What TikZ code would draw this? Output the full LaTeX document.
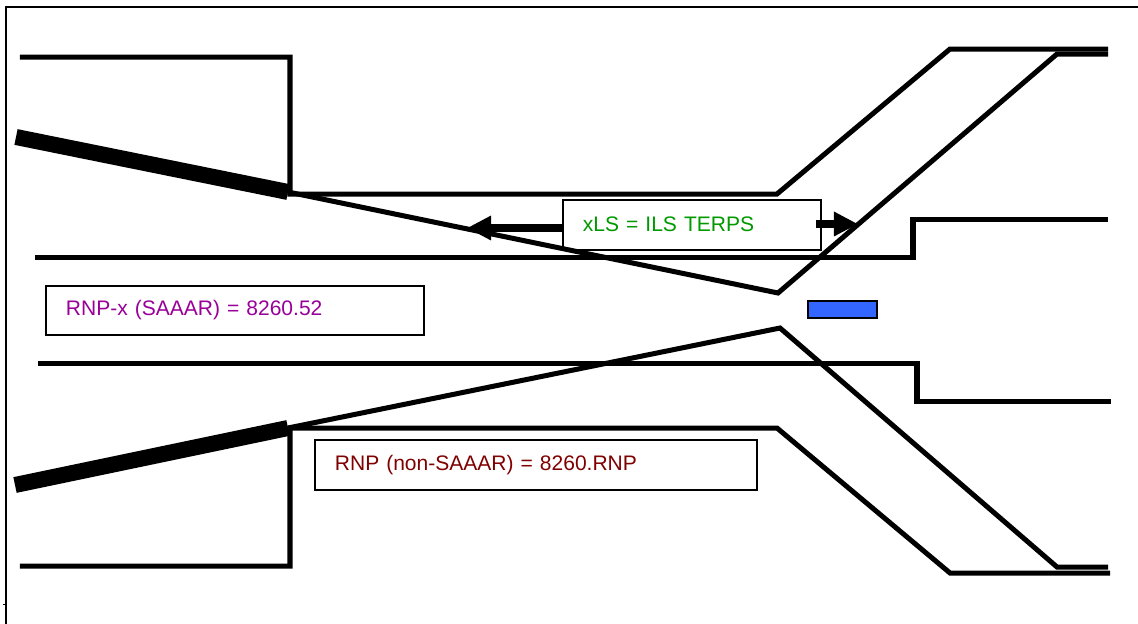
\documentclass[tikz,border=0pt]{standalone}
\usepackage{fontspec}
\setmainfont{Liberation Sans}
\usetikzlibrary{arrows.meta}
\definecolor{xlsgreen}{HTML}{009900}
\definecolor{rnppurple}{HTML}{990099}
\definecolor{rnpred}{HTML}{800000}
\definecolor{runwayblue}{HTML}{3366FF}
\tikzset{
  route/.style={line width=0.05cm,miter limit=10},
  fatroute/.style={line width=0.16cm},
  lblbox/.style={draw,fill=white,line width=0.02cm,minimum height=0.49cm,inner xsep=0.2cm,
    inner ysep=0pt,align=left,font=\fontsize{5.98}{7.2}\selectfont},
  fatarrow/.style={line width=0.08cm,-{Triangle[length=0.24cm,width=0.23cm]}}
}
\begin{document}
\begin{tikzpicture}[x=0.01cm,y=-0.01cm]
\useasboundingbox (0,0) rectangle (1138,624);

% frame
\path[draw,line width=0.02cm] (6,624) -- (6,7) -- (1138,7);
\path[draw,line width=0.01cm] (3,604) -- (5,604);

% labels
\node[lblbox,text width=2.18cm,text=xlsgreen] (xls) at (692,225) {\raisebox{0.02cm}{xLS = ILS TERPS}};
\node[lblbox,text width=3.38cm,text=rnppurple] (saaar) at (235,310.5) {RNP-x (SAAAR) = 8260.52};
\node[lblbox,text width=4.02cm,text=rnpred] (nonsaaar) at (536,465) {RNP (non-SAAAR) = 8260.RNP};
\node[draw,fill=runwayblue,line width=0.02cm,minimum width=0.69cm,minimum height=0.17cm,inner sep=0pt] (runway) at (842.5,309.5) {};

% outer surfaces
\path[draw,route] (20,57) -- (290,57) -- (290,194) -- (777,194) -- (950,49) -- (1108,49);
\path[draw,route] (20,566) -- (290,566) -- (290,428) -- (777,428) -- (950,573) -- (1110,573);

% inner surfaces
\path[draw,route] (35,257) -- (913,257) -- (913,219) -- (1108,219);
\path[draw,route] (38,363) -- (917,363) -- (917,401) -- (1111,401);

% sloped surfaces
\path[draw,route] (1108,54) -- (1057,54) -- (778,293) -- (288,192);
\path[draw,route] (1108,567) -- (1057,567) -- (780,328) -- (288,428);
\path[draw,fatroute] (288,192) -- (16,137);
\path[draw,fatroute] (288,428) -- (15,485);

% arrows
\coordinate (lefttip) at (467,228);
\coordinate (righttip) at (858,224);
\path[draw,fatarrow] (xls.west |- lefttip) -- (lefttip);
\path[draw,fatarrow] (816,224) -- (righttip);
\end{tikzpicture}
\end{document}
